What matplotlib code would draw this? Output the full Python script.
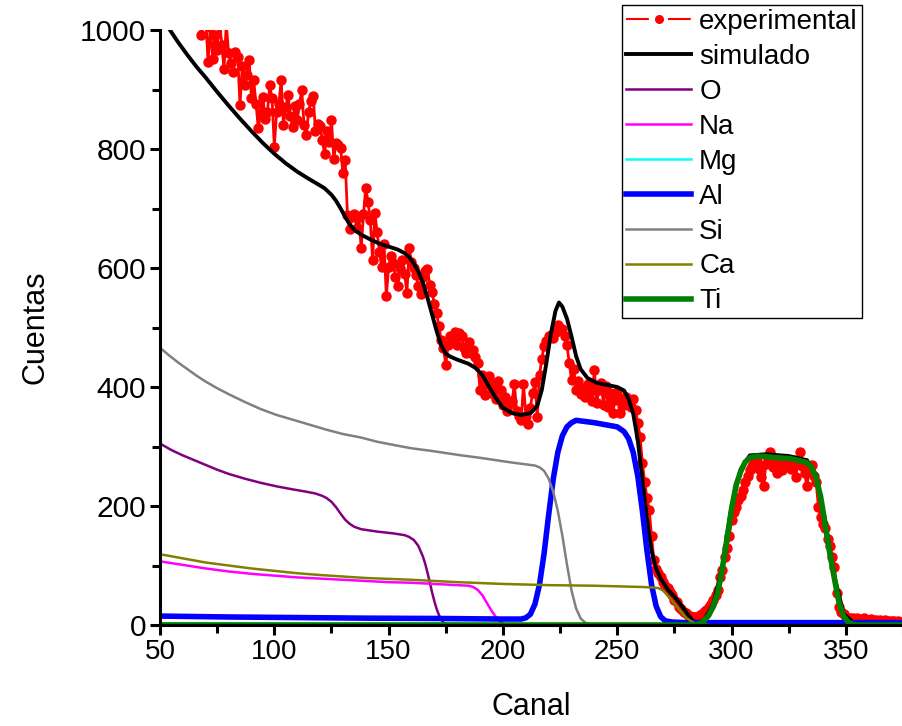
import matplotlib
matplotlib.use('Agg')
import matplotlib.pyplot as plt
from matplotlib.lines import Line2D
from matplotlib.ticker import MultipleLocator
import numpy as np

plt.rcParams['font.family'] = ['Liberation Sans', 'DejaVu Sans']

# experimental spectrum, one value per channel starting at channel 55
exp_start = 55
exp_counts = [
    1080, 1065, 1090, 1050, 1070, 1040, 1060, 1035, 1055, 1020,   # 55
    1045, 1015, 1030, 991, 1010, 1025, 946, 1005, 952, 991,        # 65
    966, 1020, 975, 935, 1010, 962, 945, 930, 963, 955,            # 75
    874, 940, 907, 925, 949, 885, 916, 876, 835, 860,              # 85
    888, 850, 862, 907, 885, 804, 862, 875, 916, 840,              # 95
    870, 890, 855, 837, 872, 848, 875, 899, 840, 823,              # 105
    862, 880, 889, 831, 842, 838, 815, 792, 830, 812,              # 115
    848, 784, 810, 806, 801, 759, 781, 689, 666, 685,              # 125
    690, 668, 685, 633, 690, 735, 711, 680, 613, 692,              # 135
    660, 627, 601, 640, 553, 601, 620, 608, 585, 569,              # 145
    600, 614, 590, 558, 633, 610, 600, 588, 570, 556,              # 155
    585, 595, 598, 572, 559, 540, 524, 502, 479, 466,              # 165
    437, 470, 486, 480, 492, 470, 490, 486, 465, 457,              # 175
    475, 457, 462, 450, 440, 395, 420, 386, 405, 418,              # 185
    390, 405, 380, 410, 395, 370, 383, 360, 372, 376,              # 195
    405, 360, 352, 344, 405, 352, 338, 365, 390, 408,              # 205
    350, 420, 447, 469, 478, 486, 488, 482, 492, 505,              # 215
    495, 498, 486, 470, 441, 412, 430, 395, 410, 389,              # 225
    398, 383, 405, 392, 376, 429, 373, 395, 406, 370,              # 235
    402, 367, 390, 356, 378, 392, 357, 380, 370, 384,              # 245
    375, 367, 380, 361, 340, 316, 272, 241, 213, 193,              # 255
    150, 110, 94, 88, 80, 72, 66, 62, 55, 50,                      # 265
    42, 38, 31, 27, 22, 20, 17, 15, 14, 13,                        # 275
    14, 17, 19, 22, 26, 31, 36, 42, 50, 59,                        # 285
    80, 92, 115, 130, 149, 177, 190, 199, 210, 216,                # 295
    227, 241, 250, 261, 268, 272, 275, 262, 248, 233,              # 305
    270, 280, 291, 265, 272, 255, 268, 260, 275, 270,              # 315
    272, 262, 278, 249, 270, 291, 268, 255, 233, 260,              # 325
    269, 250, 240, 199, 182, 170, 163, 145, 132, 115,              # 335
    98, 53, 31, 22, 18, 14, 12, 12, 11, 10,                        # 345
    12, 9, 10, 11, 9, 8, 10, 8, 9, 7,                              # 355
    8, 7, 8, 6, 7, 6, 7, 5, 6, 5, 5,                               # 365
]
exp_ch = np.arange(exp_start, exp_start + len(exp_counts))

# simulated total
sim_ch = [50, 54, 58, 62, 66, 70, 75, 80, 85, 90, 95, 100, 105, 110, 115, 119, 122,
          125, 127, 129, 131, 133, 135, 138, 142, 146, 150, 154, 157, 159, 161, 163,
          165, 167, 169, 171, 173, 175, 177, 180, 185, 188, 191, 194, 197, 200, 204,
          208, 212, 215, 217, 219, 221, 223, 224.5, 226, 228, 230, 232, 234, 237, 241,
          246, 250, 253, 255, 257, 259, 261, 263, 265, 267, 269, 272, 276, 279, 281,
          283, 285, 288, 292, 296, 300, 304, 308, 315, 325, 333, 337, 341, 345, 349,
          353, 360, 375]
sim_val = [1026, 1002, 979, 958, 938, 920, 896, 873, 851, 830, 810, 792, 776, 762, 750, 741, 734,
           723, 713, 700, 686, 673, 664, 656, 648, 641, 636, 631, 625, 618, 608, 594,
           575, 550, 522, 494, 470, 456, 451, 446, 439, 432, 420, 400, 381, 365, 356,
           353, 356, 368, 395, 440, 490, 528, 542, 535, 515, 485, 452, 430, 415, 407,
           403, 400, 394, 380, 355, 310, 245, 178, 125, 95, 78, 60, 43, 28, 17,
           7, 4, 8, 35, 99, 199, 262, 285, 287, 284, 277, 252, 172, 82, 19,
           5, 4, 4]

# element contributions
o_ch = [50, 55, 60, 65, 70, 75, 80, 87, 94, 101, 108, 114, 118, 121, 123, 125, 127,
        129, 131, 133, 135, 138, 145, 152, 157, 159, 161, 163, 165, 166, 167, 168,
        169, 170, 171, 172, 173, 174, 176, 178, 185]
o_val = [305, 294, 285, 277, 269, 261, 254, 246, 239, 233, 228, 224, 221, 217, 213, 207, 198,
         187, 177, 170, 165, 161, 157, 154, 151, 148, 143, 133, 115, 103, 88, 72,
         55, 40, 27, 17, 9, 4, 1, 0, 0]

na_ch = [50, 60, 70, 80, 90, 100, 110, 120, 130, 140, 150, 160, 170, 180, 185, 187,
         189, 191, 193, 195, 197, 199, 201, 205]
na_val = [107, 101, 95, 90, 86, 83, 80, 78, 76, 74, 72, 71, 69, 67, 66, 64,
          59, 50, 37, 24, 13, 5, 1, 0]

mg_ch = [50, 100, 150, 180, 190, 200]
mg_val = [3, 2, 2, 2, 1, 0]

al_ch = [50, 80, 110, 140, 170, 200, 208, 210, 212, 214, 216, 218, 220, 222, 224, 226,
         228, 230, 232, 240, 250, 253, 255, 257, 259, 261, 263, 265, 267, 269, 271,
         274, 280, 300, 320, 340, 375]
al_val = [15, 13.5, 12.5, 11.5, 11, 10, 10, 12, 18, 35, 68, 120, 185, 245, 290, 318,
          333, 340, 344, 340, 333, 325, 313, 290, 250, 192, 125, 68, 32, 14, 7,
          5, 4, 4, 4, 4, 4]

si_ch = [50, 54, 58, 62, 66, 70, 75, 80, 87, 94, 101, 109, 116, 123, 130, 138, 145,
         153, 160, 168, 175, 182, 190, 197, 204, 210, 214, 216, 218, 220, 222, 224,
         226, 228, 230, 232, 234, 236, 238, 242, 250]
si_val = [466, 453, 441, 430, 419, 409, 398, 388, 375, 363, 353, 344, 336, 328, 321, 315, 308,
          302, 297, 293, 289, 285, 281, 277, 273, 270, 268, 265, 259, 246, 224, 192,
          150, 102, 58, 28, 11, 4, 1, 0, 0]

ca_ch = [50, 60, 70, 80, 90, 100, 110, 120, 140, 160, 180, 200, 220, 240, 260, 266,
         268, 270, 272, 274, 276, 278, 280, 282, 284, 286, 290]
ca_val = [119, 112, 105, 100, 95, 91, 87, 84, 79, 76, 72, 69, 67, 66, 64, 63,
          62, 58, 50, 41, 31, 22, 13, 7, 3, 1, 0]

ti_ch = [50, 100, 200, 284, 286, 288, 290, 292, 294, 296, 298, 300, 302, 304, 306,
         308, 311, 315, 320, 325, 329, 333, 335, 337, 339, 341, 343, 345, 347, 349,
         351, 353, 355, 375]
ti_val = [0, 0, 0, 0, 2, 7, 16, 31, 55, 95, 145, 195, 235, 258, 274,
          281, 284, 283, 281, 280, 277, 273, 265, 248, 215, 168, 120, 78, 38, 15,
          5, 1, 0, 0]

fig = plt.figure(figsize=(9.03, 7.26), dpi=100)
ax = fig.add_axes([160 / 903, 101 / 726, 743 / 903, 595 / 726])

ax.plot(exp_ch, exp_counts, color='red', lw=2, marker='o', ms=6.5)
ax.plot(sim_ch, sim_val, color='black', lw=2.8)
ax.plot(o_ch, o_val, color='#800080', lw=1.8)
ax.plot(na_ch, na_val, color='#ff00ff', lw=1.8)
ax.plot(mg_ch, mg_val, color='#00ffff', lw=1.8)
ax.plot(al_ch, al_val, color='#0000ff', lw=4.0)
ax.plot(si_ch, si_val, color='#808080', lw=1.8)
ax.plot(ca_ch, ca_val, color='#808000', lw=1.8)
ax.plot(ti_ch, ti_val, color='#008000', lw=4.0)

ax.set_xlim(50, 375)
ax.set_ylim(0, 1000)
ax.xaxis.set_major_locator(MultipleLocator(50))
ax.xaxis.set_minor_locator(MultipleLocator(25))
ax.yaxis.set_major_locator(MultipleLocator(200))
ax.yaxis.set_minor_locator(MultipleLocator(100))

for s in ['top', 'right']:
    ax.spines[s].set_visible(False)
for s in ['left', 'bottom']:
    ax.spines[s].set_linewidth(2.2)

ax.tick_params(which='major', direction='out', length=7, width=2.2, pad=3)
ax.tick_params(which='minor', direction='out', length=6, width=2.2)
ax.tick_params(axis='x', labelsize=20)
ax.tick_params(axis='y', labelsize=21.5)

ax.set_xlabel('Canal', fontsize=22)
ax.set_ylabel('Cuentas', fontsize=22)
ax.xaxis.set_label_coords(0.5, -0.113)
ax.yaxis.set_label_coords(-0.147, 0.5)

# legend with proxy handles
exp_line = Line2D([], [], color='red', lw=1.5, dashes=(11.0, 9.1))
exp_dot = Line2D([], [], color='red', ls='none', marker='o', ms=5.5)
handles = [
    (exp_line, exp_dot),
    Line2D([], [], color='black', lw=2.8),
    Line2D([], [], color='#800080', lw=1.8),
    Line2D([], [], color='#ff00ff', lw=1.8),
    Line2D([], [], color='#00ffff', lw=1.8),
    Line2D([], [], color='#0000ff', lw=4.0),
    Line2D([], [], color='#808080', lw=1.8),
    Line2D([], [], color='#808000', lw=1.8),
    Line2D([], [], color='#008000', lw=4.0),
]
labels = ['experimental', 'simulado', 'O', 'Na', 'Mg', 'Al', 'Si', 'Ca', 'Ti']
leg = fig.legend(handles, labels, loc='upper left', bbox_to_anchor=(622 / 903, 1 - 5 / 726),
                 bbox_transform=fig.transFigure, fontsize=20, frameon=True, fancybox=False,
                 framealpha=1, edgecolor='black', borderpad=0.15, borderaxespad=0,
                 handlelength=2.34, handletextpad=0.29, labelspacing=0.32)
leg.get_frame().set_linewidth(1.0)

fig.savefig('out.png', dpi=100)
